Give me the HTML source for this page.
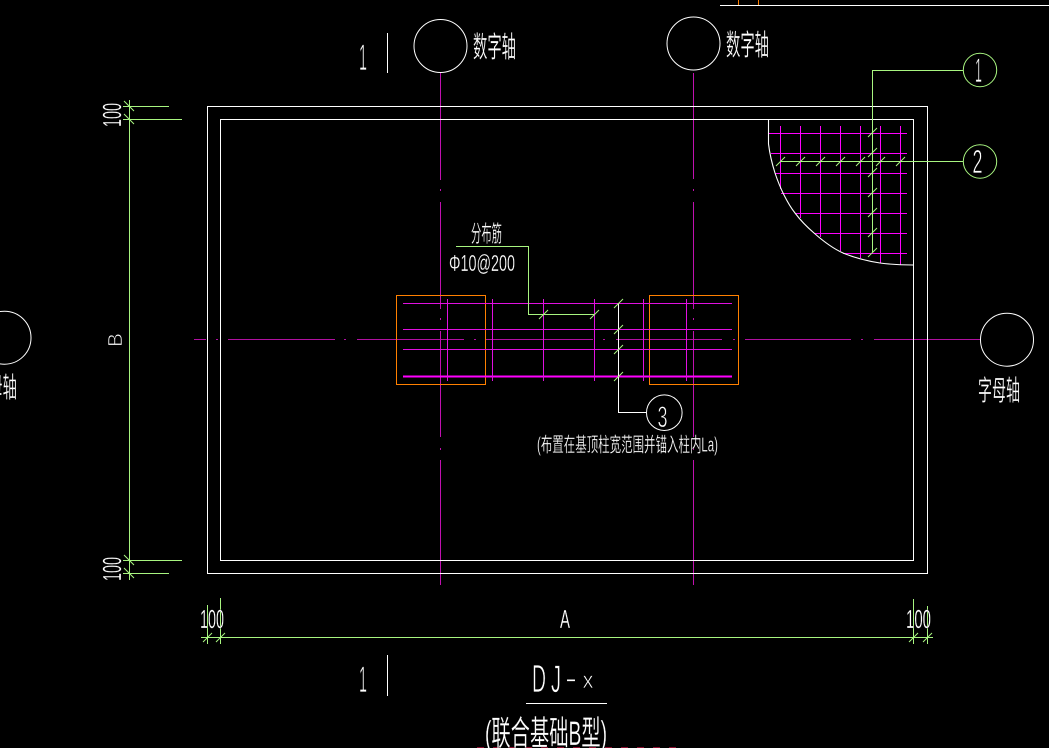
<!DOCTYPE html>
<html><head><meta charset="utf-8"><style>
html,body{margin:0;padding:0;background:#000;width:1049px;height:748px;overflow:hidden}
svg{display:block}
text{fill:#fff;stroke:#000;stroke-width:.25;font-family:"Liberation Sans","WenQuanYi Zen Hei","Noto Sans CJK SC",sans-serif}
text.t{stroke-width:.7}
</style></head><body>
<svg width="1049" height="748" viewBox="0 0 1049 748" xmlns="http://www.w3.org/2000/svg">
<rect width="1049" height="748" fill="#000"/>
<g fill="none" shape-rendering="crispEdges">
<!-- axes -->
<path stroke="#b010a0" d="M194 339.5H206M216 339.5H218M228 339.5H335M344 339.5H346M357 339.5H464M474 339.5H476M486 339.5H593M603 339.5H605M616 339.5H722M733 339.5H735M745 339.5H851M861 339.5H863M874 339.5H980"/>
<path stroke="#c010b0" d="M440.5 73V180M440.5 189V191M440.5 202V309M440.5 318V320M440.5 331V437M440.5 448V450M440.5 460V585"/>
<path stroke="#c010b0" d="M693.5 73V179M693.5 189V191M693.5 202V309M693.5 318V320M693.5 331V437M693.5 448V450M693.5 460V585"/>
<!-- slab -->
<rect x="207.5" y="106.5" width="720" height="467" stroke="#fff"/>
<rect x="220.5" y="119.5" width="693" height="441" stroke="#fff"/>
<!-- top corner -->
<path stroke="#fff" d="M720 5.5H1049"/>
<path stroke="#ff8000" d="M738.5 0V5M758.5 0V5"/>
<!-- corner rebar -->
<path stroke="#ff00ff" d="M780.5 126V189M800.5 126V218M820.5 126V237M840.5 126V251M860.5 126V258M880.5 126V263M900.5 126V265"/>
<path stroke="#ff00ff" d="M769 133.5H907M771 153.5H907M775 173.5H907M781 193.5H907M795 213.5H907M814 233.5H907M843 253.5H907"/>
<!-- column rects -->
<rect x="396.5" y="295.5" width="89" height="89" stroke="#ff8000"/>
<rect x="649.5" y="295.5" width="89" height="89" stroke="#ff8000"/>
<!-- centre rebar -->
<path stroke="#e010e0" d="M403 303.5H732M403 329.5H732M403 349.5H732"/>
<path stroke="#ff00ff" stroke-width="2" d="M403 376.5H732"/>
<path stroke="#e010e0" d="M447.5 299V381M492.5 299V381M543.5 299V381M594.5 299V381M643.5 299V381M686.5 299V381"/>
<!-- green leaders -->
<path stroke="#a8f580" d="M963 70.5H872.5V252M963 161.5H780M456 246.5H528.5V314.5H594"/>
<path stroke="#fff" d="M618.5 303V412.5H647"/>
<!-- dims -->
<path stroke="#a8f580" d="M129.5 100V580M123 106.5H169M123 119.5H182M123 560.5H182M123 573.5H169M201 637.5H933M207.5 605V644M220.5 598V644M913.5 599V644M927.5 606V644"/>
<path stroke="#fff" d="M526 703.5H607M387.5 33V73M387.5 655V696"/>
<path stroke="#8a1030" stroke-dasharray="7 9" d="M477 747.5H680"/>
</g>
<g fill="none">
<path stroke="#a8f580" stroke-width="1" d="M868 137l9-9M868 157l9-9M868 177l9-9M868 197l9-9M868 217l9-9M868 237l9-9M868 257l9-9M776 166l9-9M796 166l9-9M816 166l9-9M836 166l9-9M856 166l9-9M876 166l9-9M896 166l9-9M539 319l9-9M590 319l9-9M614 308l9-9M614 334l9-9M614 354l9-9M614 381l9-9M124 101l10 10M124 114l10 10M124 555l10 10M124 568l10 10M203 642l9-9M216 642l9-9M909 642l9-9M923 642l9-9"/>
<path stroke="#fff" stroke-width="1.1" d="M768.5 119V144C769.5 152 771.5 162 775 173C778 182 781 189 784 195C788 203 791 208 795 213C801 221 807 227 814 233C823 241 832 248 843 253C855 258 867 261 880 263C891 264.500 902 265 913 265"/>
<circle cx="440.5" cy="46" r="26.5" stroke="#fff"/>
<circle cx="693.5" cy="43.5" r="26.5" stroke="#fff"/>
<circle cx="1007" cy="339.7" r="26.5" stroke="#fff"/>
<circle cx="4.5" cy="337.7" r="26.5" stroke="#fff"/>
<circle cx="664.3" cy="412.7" r="17.8" stroke="#fff"/>
<circle cx="980" cy="70" r="16.7" stroke="#a8f580"/>
<circle cx="980" cy="161.5" r="16.7" stroke="#a8f580"/>
</g>
<!-- labels -->
<text x="473" y="57" font-size="29" textLength="43" lengthAdjust="spacingAndGlyphs">数字轴</text>
<text x="726" y="55" font-size="29" textLength="43" lengthAdjust="spacingAndGlyphs">数字轴</text>
<text x="978" y="400" font-size="28" textLength="42" lengthAdjust="spacingAndGlyphs">字母轴</text>
<text x="-26" y="397" font-size="28" textLength="43" lengthAdjust="spacingAndGlyphs">字母轴</text>
<text x="471" y="241.500" font-size="23" textLength="31" lengthAdjust="spacingAndGlyphs">分布筋</text>
<text x="449" y="271" font-size="23" textLength="66" lengthAdjust="spacingAndGlyphs">Φ10@200</text>
<text x="537" y="451.500" font-size="20" textLength="181" lengthAdjust="spacingAndGlyphs">(布置在基顶柱宽范围并锚入柱内La)</text>
<text class="t" x="359" y="70" font-size="37" textLength="8" lengthAdjust="spacingAndGlyphs">1</text>
<text class="t" x="359" y="692" font-size="37" textLength="8" lengthAdjust="spacingAndGlyphs">1</text>
<text class="t" x="975" y="82" font-size="34" textLength="7" lengthAdjust="spacingAndGlyphs">1</text>
<text class="t" x="972.500" y="173" font-size="33" textLength="10" lengthAdjust="spacingAndGlyphs">2</text>
<text class="t" x="657.500" y="427" font-size="30" textLength="10" lengthAdjust="spacingAndGlyphs">3</text>
<text x="560" y="628" font-size="26" textLength="10" lengthAdjust="spacingAndGlyphs">A</text>
<text class="t" x="532" y="692" font-size="39" textLength="14" lengthAdjust="spacingAndGlyphs">D</text>
<text class="t" x="551" y="692" font-size="39" textLength="10" lengthAdjust="spacingAndGlyphs">J</text>
<text class="t" x="565" y="688" font-size="30" textLength="12" lengthAdjust="spacingAndGlyphs">-</text>
<text class="t" x="582.500" y="688" font-size="23" textLength="11" lengthAdjust="spacingAndGlyphs">x</text>
<text x="485" y="745" font-size="34" textLength="122" lengthAdjust="spacingAndGlyphs">(联合基础B型)</text>
<text x="200" y="628" font-size="26" textLength="24" lengthAdjust="spacingAndGlyphs">100</text>
<text x="906" y="628" font-size="26" textLength="25" lengthAdjust="spacingAndGlyphs">100</text>
<text transform="translate(121,127) rotate(-90)" font-size="26" textLength="24" lengthAdjust="spacingAndGlyphs">100</text>
<text transform="translate(121,581) rotate(-90)" font-size="26" textLength="24" lengthAdjust="spacingAndGlyphs">100</text>
<text class="t" transform="translate(122,347) rotate(-90)" font-size="20" textLength="14" lengthAdjust="spacingAndGlyphs">B</text>
</svg>
</body></html>
